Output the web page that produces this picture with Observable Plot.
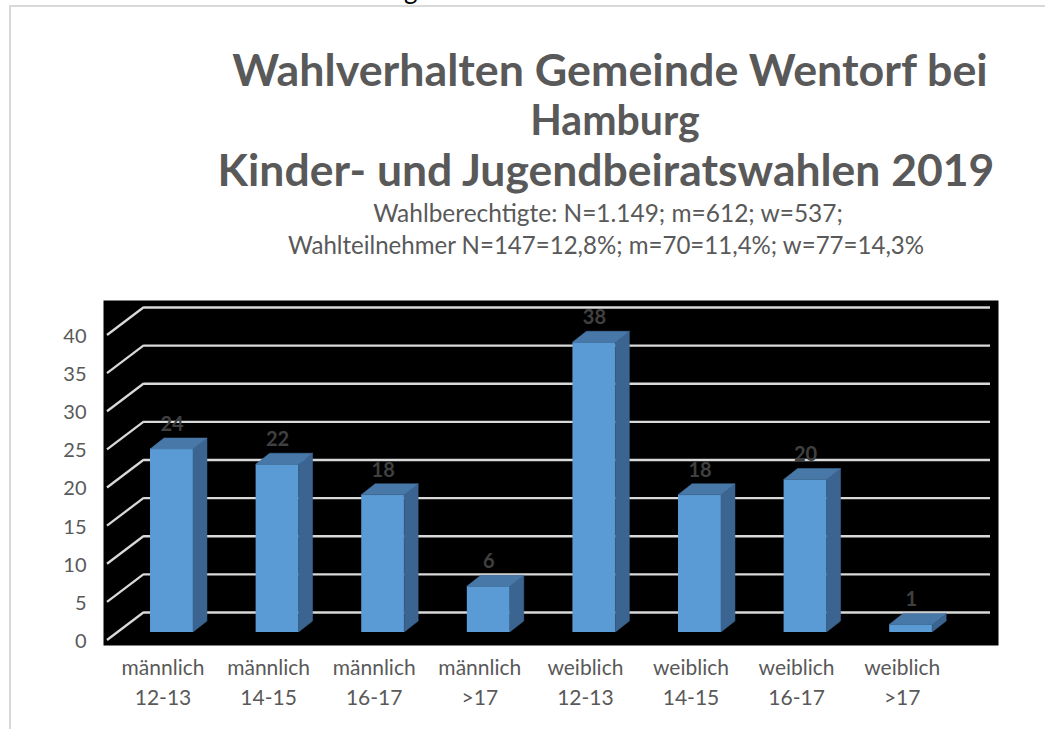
<!DOCTYPE html>
<html>
<head>
<meta charset="utf-8">
<script src="https://cdn.jsdelivr.net/npm/d3@7"></script>
<script src="https://cdn.jsdelivr.net/npm/@observablehq/plot@0.6"></script>
<style>
html, body { margin: 0; padding: 0; background: #fff; }
body { width: 1045px; height: 729px; overflow: hidden; position: relative; font-family: Lato, "Open Sans", sans-serif; color: #595959; }
#border { position: absolute; left: 9px; top: 5px; width: 1100px; height: 800px; border-left: 2px solid #d9d9d9; border-top: 2px solid #d9d9d9; box-sizing: border-box; }
#frag { position: absolute; left: 404px; top: -24px; font-size: 26px; line-height: 1; color: #000; }
.line { position: absolute; white-space: nowrap; line-height: 1; transform: translateX(-50%); }
#chart { position: absolute; left: 0; top: 280px; }
</style>
</head>
<body>
<div id="border"></div>
<div id="frag">g</div>
<div id="head"></div>
<div id="chart"></div>
<script>
// ---- data ----
const titleLines = ["Wahlverhalten Gemeinde Wentorf bei", "Hamburg", "Kinder- und Jugendbeiratswahlen 2019"];
const subtitleLines = ["Wahlberechtigte: N=1.149; m=612; w=537;", "Wahlteilnehmer N=147=12,8%; m=70=11,4%; w=77=14,3%"];
const genders = ["männlich", "männlich", "männlich", "männlich", "weiblich", "weiblich", "weiblich", "weiblich"];
const ageGroups = ["12-13", "14-15", "16-17", ">17", "12-13", "14-15", "16-17", ">17"];
const voters = [24, 22, 18, 6, 38, 18, 20, 1];
const yTicks = [0, 5, 10, 15, 20, 25, 30, 35, 40];

// ---- styles ----
const FRONT = "#5b9bd5", TOP = "#4878a8", SIDE = "#3b6590";
const GRID = "#d9d9d9", TEXT = "#595959", LABEL = "#404040";
const DX = 14, DY = 11;

// ---- heading (HTML above the svg) ----
const head = document.getElementById("head");
const headSpec = [
  {text: titleLines[0], cx: 610, base: 87, w: 756, bold: true, size: 43},
  {text: titleLines[1], cx: 615, base: 135, w: 170, bold: true, size: 43},
  {text: titleLines[2], cx: 606, base: 186, w: 777, bold: true, size: 43},
  {text: subtitleLines[0], cx: 608, base: 223, w: 470, bold: false, size: 19},
  {text: subtitleLines[1], cx: 606, base: 254, w: 637, bold: false, size: 19}
];
headSpec.forEach(s => {
  const el = document.createElement("div");
  el.className = "line";
  el.textContent = s.text;
  el.style.fontWeight = s.bold ? "700" : "400";
  el.style.fontSize = s.size + "px";
  el.style.left = s.cx + "px";
  head.appendChild(el);
  const fs = s.size * s.w / el.offsetWidth;
  el.style.fontSize = fs + "px";
  el.style.top = (s.base - 0.887 * fs) + "px";
});

// ---- chart ----
const categories = genders.map((g, i) => g + "\n" + ageGroups[i]);
const rows = categories.map((c, i) => ({cat: c, value: voters[i]}));

function depthFaces(index, scales) {
  const x = scales.x, y = scales.y, bw = x.bandwidth();
  const g = d3.create("svg:g");
  rows.forEach(d => {
    const x0 = x(d.cat), x1 = x0 + bw, yt = y(d.value), yb = y(0);
    g.append("polygon")
      .attr("points", [[x1, yt], [x1 + DX, yt - DY], [x1 + DX, yb - DY], [x1, yb]].join(" "))
      .attr("fill", SIDE).attr("stroke", SIDE).attr("stroke-width", 0.5);
    g.append("polygon")
      .attr("points", [[x0, yt], [x0 + DX, yt - DY], [x1 + DX, yt - DY], [x1, yt]].join(" "))
      .attr("fill", TOP).attr("stroke", TOP).attr("stroke-width", 0.5);
  });
  return g.node();
}

function floorDiagonals(index, scales, values, dims) {
  const y = scales.y, L = dims.marginLeft;
  const g = d3.create("svg:g").attr("stroke", GRID).attr("stroke-width", 2.3);
  yTicks.forEach(v => {
    g.append("line").attr("x1", L + 4).attr("y1", y(v) + 8).attr("x2", L + 41).attr("y2", y(v) - 20);
  });
  return g.node();
}

const chart = Plot.plot({
  width: 1045,
  height: 449,
  marginLeft: 103,
  marginRight: 47,
  marginTop: 47,
  marginBottom: 97,
  style: {fontFamily: "Lato, 'Open Sans', sans-serif", fontSize: "19px", color: TEXT, background: "transparent", overflow: "visible"},
  x: {type: "band", domain: categories, range: [87.4, 994.8], padding: 0.593, round: false, label: null},
  y: {domain: [0, 40], label: null},
  marks: [
    Plot.frame({fill: "#000", stroke: null, insetTop: -27, insetBottom: -13}),
    Plot.ruleY(yTicks, {dy: -20, insetLeft: 41, insetRight: 8, stroke: GRID, strokeWidth: 2.3}),
    floorDiagonals,
    Plot.barY(rows, {x: "cat", y: "value", fill: FRONT}),
    depthFaces,
    Plot.text(rows, {x: "cat", y: "value", text: d => String(d.value), dy: -25, fill: LABEL, fontWeight: "bold", fontSize: 20}),
    Plot.axisY(yTicks, {tickSize: 0, tickPadding: 17, dy: 9, fontSize: 20, fill: TEXT, label: null}),
    Plot.axisX({tickSize: 0, tickPadding: 22, dx: -9, fontSize: 21, lineHeight: 1.4, fill: TEXT, label: null})
  ]
});
document.getElementById("chart").appendChild(chart);
</script>
</body>
</html>
